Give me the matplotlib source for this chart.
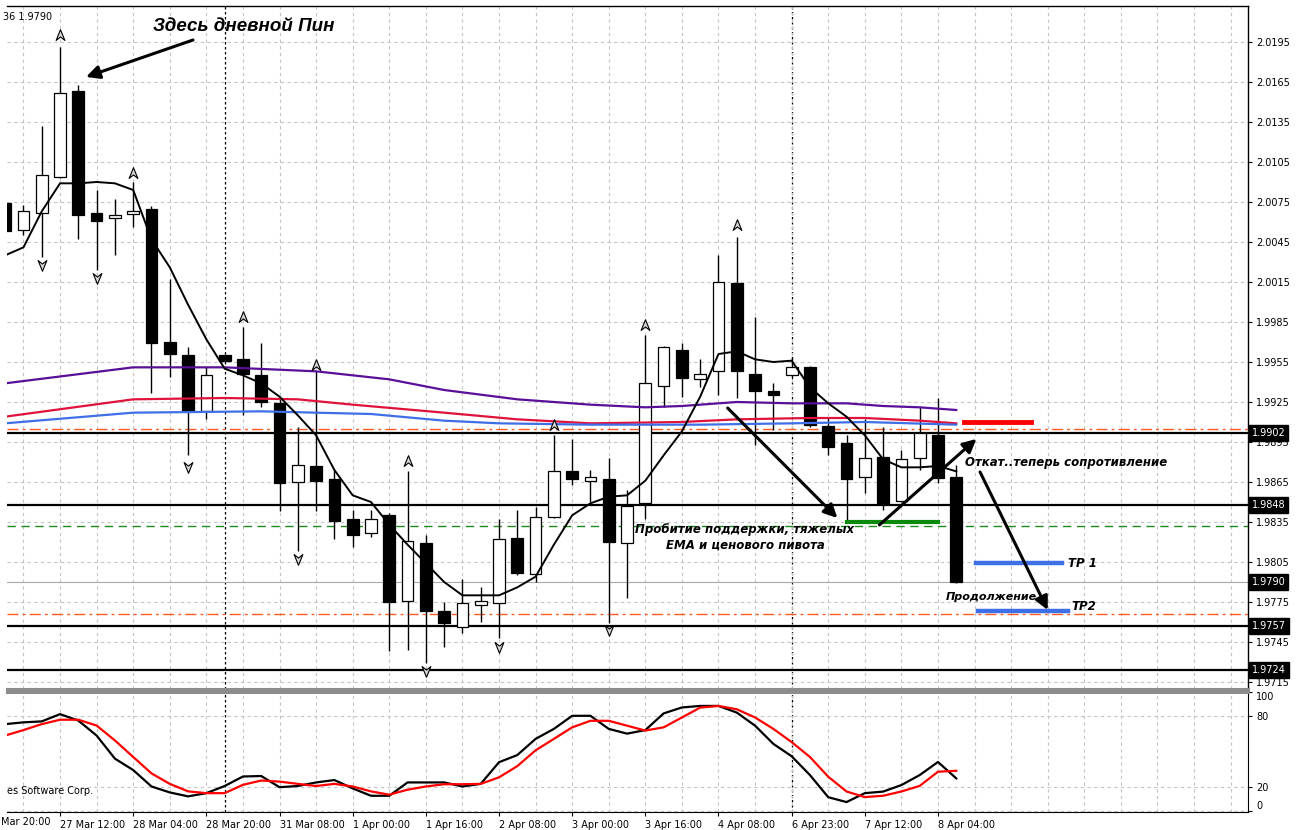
import numpy as np
import matplotlib
matplotlib.use("Agg")
import matplotlib.pyplot as plt
from matplotlib.path import Path
from matplotlib.ticker import FixedLocator, MultipleLocator

# GBPUSD H4, candle index 0 = 27 Mar 12:00
idx = np.arange(-3, 50)
opens = [2.0074, 2.0054, 2.0067, 2.0094, 2.0158, 2.0067, 2.0063, 2.0066, 2.0070, 1.9970,
         1.9960, 1.9918, 1.9960, 1.9957, 1.9945, 1.9924, 1.9865, 1.9877, 1.9867, 1.9837,
         1.9827, 1.9840, 1.9776, 1.9819, 1.9768, 1.9756, 1.9773, 1.9774, 1.9823, 1.9796,
         1.9839, 1.9873, 1.9866, 1.9867, 1.9819, 1.9849, 1.9937, 1.9964, 1.9942, 1.9948,
         2.0014, 1.9946, 1.9933, 1.9945, 1.9951, 1.9907, 1.9894, 1.9869, 1.9884, 1.9851,
         1.9883, 1.9900, 1.9869]
highs = [2.0076, 2.0073, 2.0132, 2.0191, 2.0163, 2.0084, 2.0077, 2.0090, 2.0072, 2.0017,
         1.9966, 1.9951, 1.9961, 1.9981, 1.9969, 1.9927, 1.9906, 1.9948, 1.9874, 1.9844,
         1.9844, 1.9842, 1.9873, 1.9825, 1.9775, 1.9792, 1.9786, 1.9837, 1.9844, 1.9846,
         1.9900, 1.9897, 1.9874, 1.9883, 1.9859, 1.9975, 1.9967, 1.9969, 1.9957, 2.0035,
         2.0049, 1.9989, 1.9939, 1.9959, 1.9952, 1.9914, 1.9900, 1.9912, 1.9906, 1.9889,
         1.9921, 1.9928, 1.9878]
lows = [2.0051, 2.0050, 2.0034, 2.0093, 2.0047, 2.0024, 2.0035, 2.0056, 1.9932, 1.9944,
        1.9885, 1.9912, 1.9955, 1.9915, 1.9921, 1.9843, 1.9813, 1.9843, 1.9822, 1.9816,
        1.9824, 1.9738, 1.9739, 1.9729, 1.9741, 1.9752, 1.9760, 1.9748, 1.9795, 1.9790,
        1.9838, 1.9863, 1.9850, 1.9759, 1.9778, 1.9837, 1.9921, 1.9929, 1.9936, 1.9930,
        1.9928, 1.9893, 1.9904, 1.9944, 1.9906, 1.9885, 1.9835, 1.9857, 1.9844, 1.9850,
        1.9874, 1.9864, 1.9789]
closes = [2.0053, 2.0068, 2.0095, 2.0157, 2.0065, 2.0061, 2.0065, 2.0068, 1.9969, 1.9961,
          1.9918, 1.9945, 1.9956, 1.9946, 1.9925, 1.9864, 1.9878, 1.9866, 1.9836, 1.9825,
          1.9837, 1.9775, 1.9821, 1.9768, 1.9759, 1.9774, 1.9776, 1.9822, 1.9797, 1.9839,
          1.9873, 1.9867, 1.9869, 1.9820, 1.9847, 1.9939, 1.9966, 1.9943, 1.9946, 2.0015,
          1.9948, 1.9933, 1.9930, 1.9951, 1.9908, 1.9891, 1.9867, 1.9883, 1.9849, 1.9882,
          1.9902, 1.9868, 1.9790]

# short moving average (black line)
ma_fast = [2.0035, 2.0041, 2.0068, 2.0089, 2.0089, 2.0090, 2.0089, 2.0084, 2.0047, 2.0026,
           1.9998, 1.9972, 1.9950, 1.9945, 1.9939, 1.9929, 1.9915, 1.9900, 1.9874, 1.9855,
           1.9850, 1.9833, 1.9818, 1.9804, 1.9790, 1.9780, 1.9780, 1.9780, 1.9786, 1.9794,
           1.9818, 1.9840, 1.9849, 1.9854, 1.9855, 1.9866, 1.9885, 1.9903, 1.9929, 1.9961,
           1.9963, 1.9957, 1.9955, 1.9956, 1.9936, 1.9924, 1.9914, 1.9900, 1.9882, 1.9876,
           1.9876, 1.9877, 1.9873]

# heavy EMAs, read at a few candles
ema_purple_x = [-3, 4, 9, 14, 18, 21, 25, 29, 32, 34, 37, 40, 43, 45, 47, 49]
ema_purple = [1.9939, 1.9951, 1.9951, 1.9948, 1.9942, 1.9934, 1.9927, 1.9923, 1.9921, 1.9922,
              1.9925, 1.9924, 1.9924, 1.9922, 1.9921, 1.9919]
ema_red_x = [-3, 4, 9, 13, 16, 21, 25, 29, 34, 37, 41, 44, 47, 49]
ema_red = [1.9914, 1.9927, 1.9928, 1.9927, 1.9923, 1.9917, 1.9912, 1.9909, 1.9910, 1.9912,
           1.9913, 1.9913, 1.9911, 1.9909]
ema_blue_x = [-3, 4, 11, 17, 21, 24, 29, 35, 40, 44, 49]
ema_blue = [1.9909, 1.9917, 1.9918, 1.9916, 1.9911, 1.9909, 1.9908, 1.9908, 1.9909, 1.9910, 1.9908]

# fractals
frac_up_x = [0, 4, 10, 14, 19, 27, 32, 37]
frac_up = [2.0200, 2.0097, 1.9989, 1.9953, 1.9881, 1.9908, 1.9983, 2.0058]
frac_dn_x = [-1, 2, 7, 13, 20, 24, 30]
frac_dn = [2.0028, 2.0018, 1.9876, 1.9807, 1.9723, 1.9741, 1.9754]

# stochastic %K (black) and %D (red)
stoch_k = [73, 74.5, 75.3, 81.4, 76, 63.4, 44, 34.4, 20.6, 15.6, 12.3, 15, 21, 29, 29.4, 20,
           21, 24, 26, 19, 12.8, 12.8, 24, 24, 24, 20.6, 22.8, 41, 47, 60.6, 69, 80, 80, 69,
           65, 68, 82, 87, 88.3, 88.3, 82.7, 71.7, 56.4, 46, 30.2, 11.6, 7.5, 15, 16.3, 21.8,
           30.2, 41.2, 27.4]
stoch_d = [63.4, 68, 73, 76.7, 76.7, 71.8, 59.3, 45.4, 31.6, 22.8, 16.5, 15, 15, 22, 25.6,
           24.7, 22.8, 21, 22.8, 20.6, 16.5, 13.7, 17.9, 20.6, 22.5, 22.5, 22.8, 28.3, 37.7,
           51, 60.6, 70.3, 75.8, 75.8, 71.7, 67.6, 70.3, 78.6, 86.9, 88.3, 85.5, 78.6, 69,
           57.9, 45.4, 28.8, 16.4, 11.7, 12.8, 16.4, 21.1, 33, 33.8]

# levels
pivot_levels = [1.9902, 1.9848, 1.9757, 1.9724]
bid_price = 1.9790
orange_levels = [1.9905, 1.9766]
green_level = 1.9832
price_ticks = [2.0195, 2.0165, 2.0135, 2.0105, 2.0075, 2.0045, 2.0015, 1.9985, 1.9955,
               1.9925, 1.9895, 1.9865, 1.9835, 1.9805, 1.9775, 1.9745, 1.9715]
boxed_prices = [1.9902, 1.9848, 1.9790, 1.9757, 1.9724]

time_tick_x = [0, 4, 8, 12, 16, 20, 24, 28, 32, 36, 40, 44, 48]
time_labels = ["27 Mar 12:00", "28 Mar 04:00", "28 Mar 20:00", "31 Mar 08:00", "1 Apr 00:00",
               "1 Apr 16:00", "2 Apr 08:00", "3 Apr 00:00", "3 Apr 16:00", "4 Apr 08:00",
               "6 Apr 23:00", "7 Apr 12:00", "8 Apr 04:00"]
week_separators = [9, 40]

# drawn objects
seg_red = ([49.4, 53.1], 1.9910)
seg_green = ([43.0, 48.0], 1.9835)
seg_tp1 = ([50.1, 54.8], 1.9804)
seg_tp2 = ([50.2, 55.1], 1.9768)
arrows = [((7.27, 2.01965), (1.42, 2.01688)),
          ((36.5, 1.99205), (42.5, 1.98380)),
          ((44.8, 1.98328), (50.1, 1.98973)),
          ((50.3, 1.98725), (54.0, 1.97690))]

W, H = 1305, 830
fig = plt.figure(figsize=(W / 100, H / 100), dpi=100)
fig.patch.set_facecolor("white")
ax = fig.add_axes([7 / W, (H - 689) / H, (1248 - 7) / W, (689 - 6) / H])
sax = fig.add_axes([7 / W, (H - 812) / H, (1248 - 7) / W, (812 - 692) / H], sharex=ax)

xlim = (-2.9, 64.95)
grid_kw = dict(color="#c4c4c4", linestyle=(0, (3, 3)), linewidth=0.8)

# ---- main price panel ----
o = np.array(opens); c = np.array(closes)
up = c >= o
ax.vlines(idx, lows, highs, color="black", linewidth=1, zorder=3)
ax.bar(idx[up], (c - o)[up], bottom=o[up], width=0.64, color="white",
       edgecolor="black", linewidth=0.9, zorder=4)
ax.bar(idx[~up], (o - c)[~up], bottom=c[~up], width=0.64, color="black",
       edgecolor="black", linewidth=0.9, zorder=4)

ax.plot(ema_purple_x, ema_purple, color="#5a0f99", linewidth=1.6, zorder=5)
ax.plot(ema_red_x, ema_red, color="#e0123c", linewidth=1.6, zorder=5)
ax.plot(ema_blue_x, ema_blue, color="#3f6fe6", linewidth=1.6, zorder=5)
ax.plot(idx, ma_fast, color="black", linewidth=1.4, zorder=6)

for lv in pivot_levels:
    ax.axhline(lv, color="black", linewidth=1.6, zorder=2)
ax.axhline(bid_price, color="#a8a8a8", linewidth=0.8, zorder=2)
for lv in orange_levels:
    ax.axhline(lv, color="#ff5a1f", linewidth=1.0, linestyle=(0, (8, 3, 2, 3)), zorder=2)
ax.axhline(green_level, color="#1f8a1f", linewidth=1.0, linestyle=(0, (6, 4)), zorder=2)

ax.plot(seg_red[0], [seg_red[1]] * 2, color="#ff0000", linewidth=3.5, zorder=6)
ax.plot(seg_green[0], [seg_green[1]] * 2, color="#0a8a0a", linewidth=3.0, zorder=6)
ax.plot(seg_tp1[0], [seg_tp1[1]] * 2, color="#3f6fe6", linewidth=3.2, zorder=6)
ax.plot(seg_tp2[0], [seg_tp2[1]] * 2, color="#3f6fe6", linewidth=3.2, zorder=6)

# fractal arrows
arrow_path = Path([(0, 1), (0.75, -0.85), (0, -0.25), (-0.75, -0.85), (0, 1)],
                  [Path.MOVETO, Path.LINETO, Path.LINETO, Path.LINETO, Path.CLOSEPOLY])
arrow_down = Path(arrow_path.vertices * [1, -1], arrow_path.codes)
ax.scatter(frac_up_x, frac_up, marker=arrow_path, s=70, facecolor="#d8d8d8",
           edgecolor="black", linewidth=0.8, zorder=7)
ax.scatter(frac_dn_x, frac_dn, marker=arrow_down, s=70, facecolor="#d8d8d8",
           edgecolor="black", linewidth=0.8, zorder=7)

for start, end in arrows:
    ax.annotate("", xy=end, xytext=start,
                arrowprops=dict(arrowstyle="-|>", color="black", lw=2.2,
                                mutation_scale=20, shrinkA=0, shrinkB=0), zorder=8)

ax.text(5.08, 2.02063, "Здесь дневной Пин", fontsize=13.5, style="italic",
        weight="bold", family="Liberation Sans", va="center", ha="left", zorder=9)
note_kw = dict(fontsize=8.5, style="italic", weight="bold", family="DejaVu Sans",
               va="center", zorder=9)
ax.text(37.45, 1.98292, "Пробитие поддержки, тяжелых", ha="center", **note_kw)
ax.text(37.45, 1.98178, "EMA и ценового пивота", ha="center", **note_kw)
ax.text(49.5, 1.98800, "Откат..теперь сопротивление", ha="left", **note_kw)
ax.text(48.4, 1.97788, "Продолжение", ha="left", fontsize=8, style="italic",
        weight="bold", family="DejaVu Sans", va="center", zorder=9)
ax.text(55.1, 1.98035, "TP 1", ha="left", **note_kw)
ax.text(55.3, 1.97713, "TP2", ha="left", **note_kw)

ax.set_xlim(*xlim)
ax.set_ylim(1.970975, 2.0222)
ax.yaxis.set_major_locator(FixedLocator(price_ticks))
ax.set_yticklabels(["%.4f" % p for p in price_ticks])
ax.yaxis.tick_right()
ax.tick_params(axis="y", direction="out", length=3, width=0.8, labelsize=7, pad=3)
ax.tick_params(axis="x", length=0, labelbottom=False, which="both")
ax.grid(axis="y", **grid_kw)

for p in boxed_prices:
    ax.text(1.003, p, "%.4f" % p, transform=ax.get_yaxis_transform(), fontsize=7,
            color="white", va="center", ha="left", zorder=10, clip_on=False,
            bbox=dict(boxstyle="square,pad=0.3", facecolor="black", edgecolor="black"))

ax.spines["left"].set_visible(False)
ax.spines["top"].set_linewidth(1.0)
ax.spines["right"].set_linewidth(1.0)
ax.spines["bottom"].set_color("#8c8c8c")
ax.spines["bottom"].set_linewidth(2.2)

# ---- stochastic panel ----
sax.plot(idx, stoch_k, color="black", linewidth=1.6, zorder=3)
sax.plot(idx, stoch_d, color="#ff0000", linewidth=1.6, zorder=4)
sax.set_ylim(-0.84, 100)
sax.yaxis.set_major_locator(FixedLocator([0, 20, 80, 100]))
sax.set_yticklabels(["0", "20", "80", "100"])
sax.yaxis.tick_right()
sax.tick_params(axis="y", direction="out", length=3, width=0.8, labelsize=7, pad=3)
lbls = sax.get_yticklabels()
lbls[0].set_va("bottom")
lbls[3].set_va("top")
sax.grid(axis="y", **grid_kw)
sax.spines["left"].set_visible(False)
sax.spines["top"].set_color("#8c8c8c")
sax.spines["top"].set_linewidth(2.2)
sax.text(0.0, 17, "es Software Corp.", fontsize=7, transform=sax.get_yaxis_transform(),
         ha="left", va="center")

sax.xaxis.set_major_locator(FixedLocator(time_tick_x))
sax.set_xticklabels(time_labels, ha="left")
sax.xaxis.set_minor_locator(MultipleLocator(2))
sax.tick_params(axis="x", which="major", direction="out", length=3, labelsize=7, pad=3)
sax.tick_params(axis="x", which="minor", length=0)

ax.xaxis.set_major_locator(FixedLocator(time_tick_x))
ax.xaxis.set_minor_locator(MultipleLocator(2))
for a in (ax, sax):
    a.grid(axis="x", which="both", **grid_kw)
    for s in week_separators:
        a.axvline(s, color="black", linewidth=0.9, linestyle=(0, (2, 2)), zorder=1)

fig.text(1 / W, 1 - 822 / H, "Mar 20:00", fontsize=7, ha="left", va="center")
fig.text(3 / W, 1 - 17 / H, "36 1.9790", fontsize=7, ha="left", va="center")

fig.savefig("out.png", dpi=100)
